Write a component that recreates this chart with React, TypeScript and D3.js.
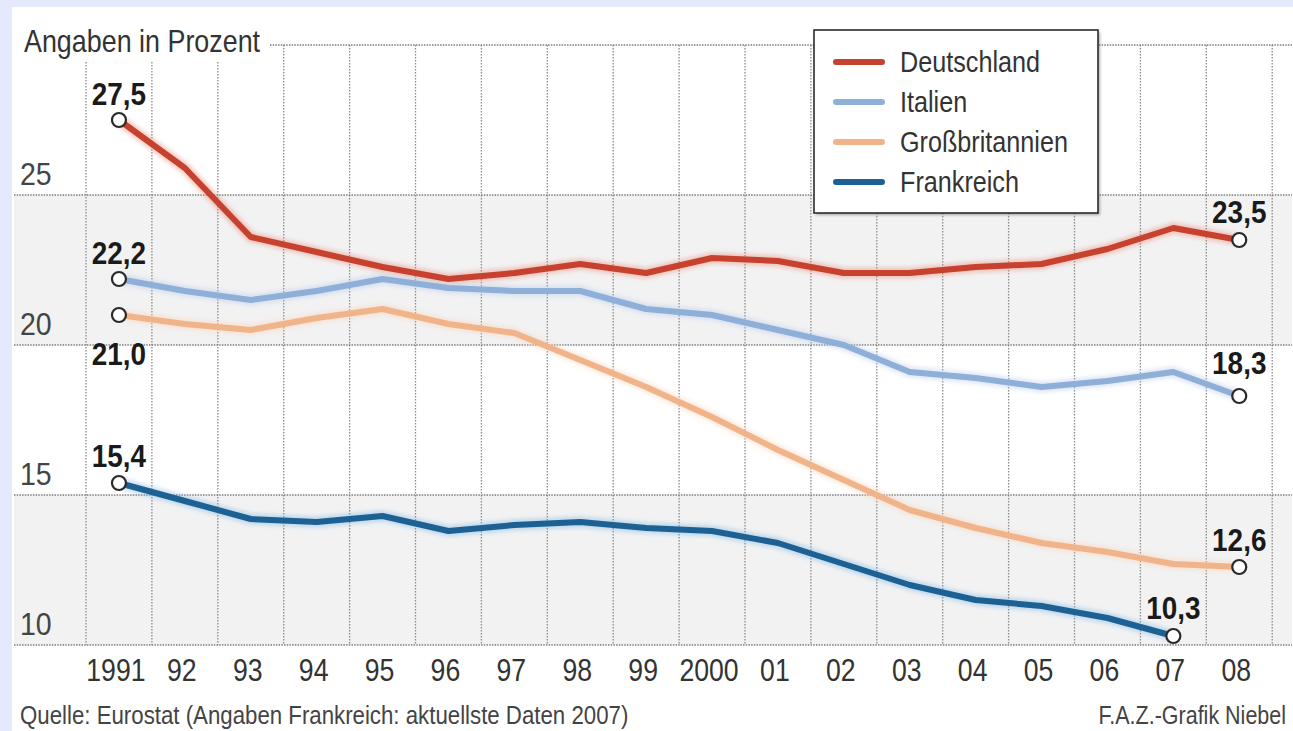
import React from "react";
import * as d3 from "d3";

// Zeitreihe 1991–2008, Angaben in Prozent
const years = ["1991", "92", "93", "94", "95", "96", "97", "98", "99", "2000", "01", "02", "03", "04", "05", "06", "07", "08"];

const deutschland = [27.5, 25.9, 23.6, 23.1, 22.6, 22.2, 22.4, 22.7, 22.4, 22.9, 22.8, 22.4, 22.4, 22.6, 22.7, 23.2, 23.9, 23.5];
const italien = [22.2, 21.8, 21.5, 21.8, 22.2, 21.9, 21.8, 21.8, 21.2, 21.0, 20.5, 20.0, 19.1, 18.9, 18.6, 18.8, 19.1, 18.3];
const grossbritannien = [21.0, 20.7, 20.5, 20.9, 21.2, 20.7, 20.4, 19.5, 18.6, 17.6, 16.5, 15.5, 14.5, 13.9, 13.4, 13.1, 12.7, 12.6];
const frankreich = [15.4, 14.8, 14.2, 14.1, 14.3, 13.8, 14.0, 14.1, 13.9, 13.8, 13.4, 12.7, 12.0, 11.5, 11.3, 10.9, 10.3];

const yTicks = [10, 15, 20, 25];
const seriesNames = ["Deutschland", "Italien", "Großbritannien", "Frankreich"];

const W = 1293;
const H = 731;
const FONT = "'Liberation Sans', Arial, sans-serif";

const series = [
  { name: seriesNames[0], values: deutschland, color: "#c6412e", halo: "#e88a78" },
  { name: seriesNames[1], values: italien, color: "#8eafd8", halo: "#b9cde8" },
  { name: seriesNames[2], values: grossbritannien, color: "#f1b48a", halo: "#f7d2b8" },
  { name: seriesNames[3], values: frankreich, color: "#1d6194", halo: "#7fb6e0" },
];

// Endpunkt-Beschriftungen: Serienindex, Jahresindex, Lage relativ zum Punkt
const endLabels = [
  { s: 0, i: 0, dy: -15 },
  { s: 0, i: 17, dy: -17 },
  { s: 1, i: 0, dy: -15 },
  { s: 1, i: 17, dy: -22 },
  { s: 2, i: 0, dy: 50 },
  { s: 2, i: 17, dy: -16 },
  { s: 3, i: 0, dy: -16 },
  { s: 3, i: 16, dy: -17 },
];

const deLocale = d3.formatLocale({ decimal: ",", thousands: ".", grouping: [3], currency: ["", " €"] });
const fmt = deLocale.format(".1f");

// schmal gesetzter Text (horizontal gestaucht um den Ankerpunkt)
function Narrow(props: {
  x: number;
  y: number;
  size: number;
  sx: number;
  anchor?: "start" | "middle" | "end";
  fill?: string;
  weight?: string;
  children: React.ReactNode;
}) {
  const { x, y, size, sx, anchor = "start", fill = "#333", weight = "normal", children } = props;
  return (
    <text
      transform={`translate(${x},${y}) scale(${sx},1)`}
      textAnchor={anchor}
      fontFamily={FONT}
      fontSize={size}
      fontWeight={weight}
      fill={fill}
    >
      {children}
    </text>
  );
}

export default function App() {
  const x = d3.scaleBand<string>().domain(years).range([86, 86 + 65.9 * years.length]);
  const bw = x.bandwidth();
  const cx = (i: number) => (x(years[i]) as number) + bw / 2;
  const y = d3.scaleLinear().domain([10, 30]).range([645, 45]);

  const line = d3
    .line<number>()
    .x((_, i) => cx(i))
    .y((d) => y(d))
    .curve(d3.curveLinear);

  const gridX = years.map((yr) => x(yr) as number).concat([(x(years[years.length - 1]) as number) + bw]);
  const left = 14;
  const right = 1292;

  return (
    <div style={{ position: "absolute", left: 0, top: 0 }}>
      <svg width={W} height={H} style={{ display: "block" }}>
        <defs>
          <filter id="halo" x="-5%" y="-20%" width="110%" height="140%">
            <feGaussianBlur stdDeviation="2.2" />
          </filter>
          <filter id="boxShadow" x="-5%" y="-5%" width="115%" height="115%">
            <feGaussianBlur stdDeviation="1.5" />
          </filter>
        </defs>

        {/* Rahmen und Hintergrund */}
        <rect x={0} y={0} width={W} height={H} fill="#e4eafb" />
        <rect x={12} y={7} width={W - 12} height={H - 7} fill="#ffffff" />

        {/* graue Bänder 20–25 und 10–15 */}
        {[[20, 25], [10, 15]].map(([a, b]) => (
          <rect key={a} x={left} y={y(b)} width={right - left} height={y(a) - y(b)} fill="#f2f2f3" />
        ))}

        {/* senkrechte Gitterlinien */}
        {gridX.map((gx, k) => (
          <line
            key={k}
            x1={gx}
            x2={gx}
            y1={gx < 270 ? 62 : y(30)}
            y2={y(10)}
            stroke="#8a8a8a"
            strokeWidth={1.3}
            strokeDasharray="1.5,1.5"
          />
        ))}

        {/* waagrechte Gitterlinien */}
        {yTicks.map((t) => (
          <line key={t} x1={left} x2={right} y1={y(t)} y2={y(t)} stroke="#7d7d7d" strokeWidth={1.4} strokeDasharray="1.5,1.2" />
        ))}
        <line x1={270} x2={right} y1={y(30)} y2={y(30)} stroke="#7d7d7d" strokeWidth={1.4} strokeDasharray="1.5,1.2" />

        {/* Achsenbeschriftung */}
        <Narrow x={24} y={52} size={32} sx={0.84} fill="#333">
          Angaben in Prozent
        </Narrow>
        {yTicks.map((t) => (
          <Narrow key={t} x={20} y={y(t) - 10} size={31} sx={0.92} fill="#444">
            {t}
          </Narrow>
        ))}
        {years.map((yr, i) => (
          <Narrow key={yr} x={cx(i) - 3} y={681} size={31} sx={0.86} anchor="middle" fill="#333">
            {yr}
          </Narrow>
        ))}

        {/* Linien mit weichem Schein */}
        {series.map((s) => (
          <path
            key={s.name + "-halo"}
            d={line(s.values) || ""}
            fill="none"
            stroke={s.halo}
            strokeWidth={11}
            strokeOpacity={0.45}
            strokeLinejoin="round"
            filter="url(#halo)"
          />
        ))}
        {series.map((s) => (
          <path
            key={s.name}
            d={line(s.values) || ""}
            fill="none"
            stroke={s.color}
            strokeWidth={6}
            strokeLinejoin="round"
            strokeLinecap="round"
          />
        ))}

        {/* Endpunkte */}
        {endLabels.map((l, k) => {
          const v = series[l.s].values[l.i];
          const px = cx(l.i);
          const py = y(v);
          return (
            <g key={k}>
              <circle cx={px} cy={py} r={7} fill="#fff" stroke="#2a2a2a" strokeWidth={2.2} />
              <Narrow x={px} y={py + l.dy} size={31} sx={0.9} anchor="middle" weight="bold" fill="#1a1a1a">
                {fmt(v)}
              </Narrow>
            </g>
          );
        })}

        {/* Legende */}
        <rect x={816} y={32} width={284} height={183} fill="#777" opacity={0.6} filter="url(#boxShadow)" />
        <rect x={814} y={30} width={284} height={183} fill="#fff" stroke="#2b2b2b" strokeWidth={1.6} />
        {series.map((s, k) => {
          const ly = 62 + k * 40;
          return (
            <g key={s.name}>
              <line x1={836} x2={882} y1={ly} y2={ly} stroke={s.color} strokeWidth={6} strokeLinecap="round" />
              <Narrow x={900} y={ly + 10} size={30} sx={0.84} fill="#333">
                {s.name}
              </Narrow>
            </g>
          );
        })}

        {/* Quelle */}
        <Narrow x={20} y={724} size={25} sx={0.89} fill="#444">
          Quelle: Eurostat (Angaben Frankreich: aktuellste Daten 2007)
        </Narrow>
        <Narrow x={1286} y={724} size={25} sx={0.86} anchor="end" fill="#444">
          F.A.Z.-Grafik Niebel
        </Narrow>
      </svg>
    </div>
  );
}
